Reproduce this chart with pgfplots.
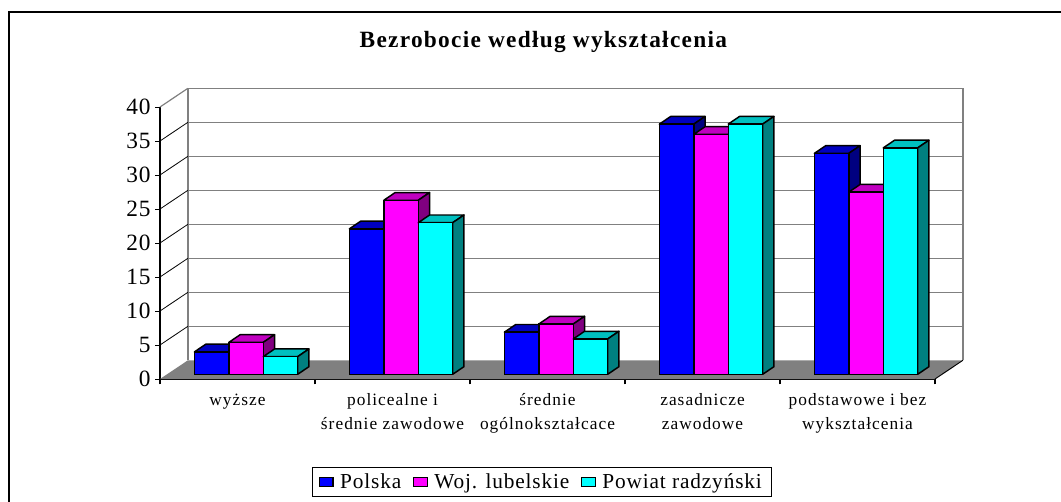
\documentclass[border=0pt]{standalone}
\usepackage{pgfplots}
\pgfplotsset{compat=1.18}
\usepackage{fontspec}
\setmainfont[LetterSpace=4]{Liberation Serif}
\newfontfamily\titlefont[LetterSpace=5.5]{Liberation Serif}
\newfontfamily\catfont[LetterSpace=6]{Liberation Serif}
\definecolor{c1}{RGB}{0,0,255}
\definecolor{c1top}{RGB}{0,0,192}
\definecolor{c1side}{RGB}{0,0,128}
\definecolor{c2}{RGB}{255,0,255}
\definecolor{c2top}{RGB}{192,0,192}
\definecolor{c2side}{RGB}{128,0,128}
\definecolor{c3}{RGB}{0,255,255}
\definecolor{c3top}{RGB}{0,192,192}
\definecolor{c3side}{RGB}{0,128,128}
\definecolor{wall}{RGB}{128,128,128}
\definecolor{gridc}{RGB}{128,128,128}

% top and side of one bar: centre x, shift, value, colour stem
\newcommand{\barfaces}[4]{%
  \pgfmathsetmacro{\xa}{#1+#2-0.111}%
  \pgfmathsetmacro{\xb}{#1+#2+0.111}%
  \pgfmathsetmacro{\xc}{\xa+0.073}%
  \pgfmathsetmacro{\xd}{\xb+0.073}%
  \pgfmathsetmacro{\yt}{#3+1.13}%
  \addplot[forget plot, fill=#4top, draw=black, line width=1.1pt, line join=round] coordinates {(\xa,#3) (\xb,#3) (\xd,\yt) (\xc,\yt)} --cycle;
  \addplot[forget plot, fill=#4side, draw=black, line width=1.1pt, line join=round] coordinates {(\xb,0) (\xd,1.13) (\xd,\yt) (\xb,#3)} --cycle;
}

\begin{document}
\begin{tikzpicture}[x=1pt,y=1pt]
\useasboundingbox (0,0) rectangle (795.75pt,375.75pt);
% outer frame: only top and left are inside the image
\draw[line width=1.5pt] (6.9pt,-2pt) -- (6.9pt,366.8pt) -- (797pt,366.8pt);

% walls, floor, gridlines, axes
\begin{axis}[
  at={(120pt,91.5pt)}, anchor=origin,
  width=581.25pt, height=204pt, scale only axis,
  xmin=0, xmax=5, ymin=0, ymax=40,
  clip=false,
  axis x line=bottom, axis y line=left,
  axis line style={-, black, line width=1pt},
  xtick={0.5,1.5,2.5,3.5,4.5},
  xticklabels={wyższe,{policealne i\\średnie zawodowe},{średnie\\ogólnokształcace},{zasadnicze\\zawodowe},{podstawowe i bez\\wykształcenia}},
  xticklabel style={align=center, font=\catfont\fontsize{13}{17.5}\selectfont, yshift=-4pt},
  minor xtick={0,1,2,3,4,5},
  major x tick style={draw=none},
  tick align=outside,
  major tick length=3.5pt,
  minor tick length=4pt,
  every minor tick/.append style={black, line width=0.8pt},
  ytick={0,5,...,40},
  ytick style={black, line width=0.7pt},
  yticklabel style={font=\fontsize{17.5}{17.5}\selectfont, xshift=0pt},
  /pgf/number format/assume math mode=true,
]
% floor and walls (depth 0.18 categories, 2.75 value units)
\addplot[forget plot, fill=wall, draw=none] coordinates {(0,0) (5,0) (5.18,2.75) (0.18,2.75)} --cycle;
\addplot[forget plot, draw=gridc, line width=1pt] coordinates {(0.18,2.75) (0.18,42.75) (5.18,42.75) (5.18,2.75)};
\addplot[forget plot, draw=black, line width=0.7pt] coordinates {(5,0) (5.18,2.75)};
\foreach \v in {5,10,...,35} {
  \pgfmathsetmacro{\w}{\v+2.75}
  \edef\tmp{\noexpand\addplot[forget plot, draw=gridc, line width=1pt] coordinates {(0.18,\w) (5.18,\w)};
    \noexpand\addplot[forget plot, draw=black, line width=0.6pt] coordinates {(0,\v) (0.18,\w)};}
  \tmp
}
\addplot[forget plot, draw=gridc, line width=0.9pt] coordinates {(0,40) (0.18,42.75)};
\end{axis}

% the bars stand in a plane behind the front edge
\begin{axis}[
  at={(126.4pt,95pt)}, anchor=origin,
  width=581.25pt, height=204pt, scale only axis,
  xmin=0, xmax=5, ymin=0, ymax=40,
  clip=false, hide axis,
  legend columns=3,
  legend cell align=left,
  legend style={at={(280pt,-80.8pt)}, anchor=center, draw=black, line width=0.8pt,
    font=\fontsize{16}{16}\selectfont, inner xsep=5pt, inner ysep=2.5pt,
    /tikz/every even column/.style={column sep=7pt}},
  legend image code/.code={\draw[fill=#1,draw=black,line width=0.8pt] (0.05cm,-0.125cm) rectangle (0.4cm,0.125cm);
    \path (0.5cm,0cm);},
]
\barfaces{0.5}{-0.222}{3.3}{c1}
\barfaces{1.5}{-0.222}{21.4}{c1}
\barfaces{2.5}{-0.222}{6.2}{c1}
\barfaces{3.5}{-0.222}{36.8}{c1}
\barfaces{4.5}{-0.222}{32.5}{c1}
\addplot[ybar, bar width=25.8pt, bar shift=-25.8pt, fill=c1, draw=black, line width=1.1pt] coordinates {(0.5,3.3) (1.5,21.4) (2.5,6.2) (3.5,36.8) (4.5,32.5)};
\addlegendentry{Polska}

\barfaces{0.5}{0}{4.7}{c2}
\barfaces{1.5}{0}{25.6}{c2}
\barfaces{2.5}{0}{7.4}{c2}
\barfaces{3.5}{0}{35.3}{c2}
\barfaces{4.5}{0}{26.8}{c2}
\addplot[ybar, bar width=25.8pt, bar shift=0pt, fill=c2, draw=black, line width=1.1pt] coordinates {(0.5,4.7) (1.5,25.6) (2.5,7.4) (3.5,35.3) (4.5,26.8)};
\addlegendentry{Woj. lubelskie}

\barfaces{0.5}{0.222}{2.6}{c3}
\barfaces{1.5}{0.222}{22.3}{c3}
\barfaces{2.5}{0.222}{5.2}{c3}
\barfaces{3.5}{0.222}{36.8}{c3}
\barfaces{4.5}{0.222}{33.3}{c3}
\addplot[ybar, bar width=25.8pt, bar shift=25.8pt, fill=c3, draw=black, line width=1.1pt] coordinates {(0.5,2.6) (1.5,22.3) (2.5,5.2) (3.5,36.8) (4.5,33.3)};
\addlegendentry{Powiat radzyński}
\end{axis}

\node[font=\titlefont\bfseries\fontsize{17.5}{17.5}\selectfont] at (407.5pt,344.5pt) {Bezrobocie według wykształcenia};
\end{tikzpicture}
\end{document}
